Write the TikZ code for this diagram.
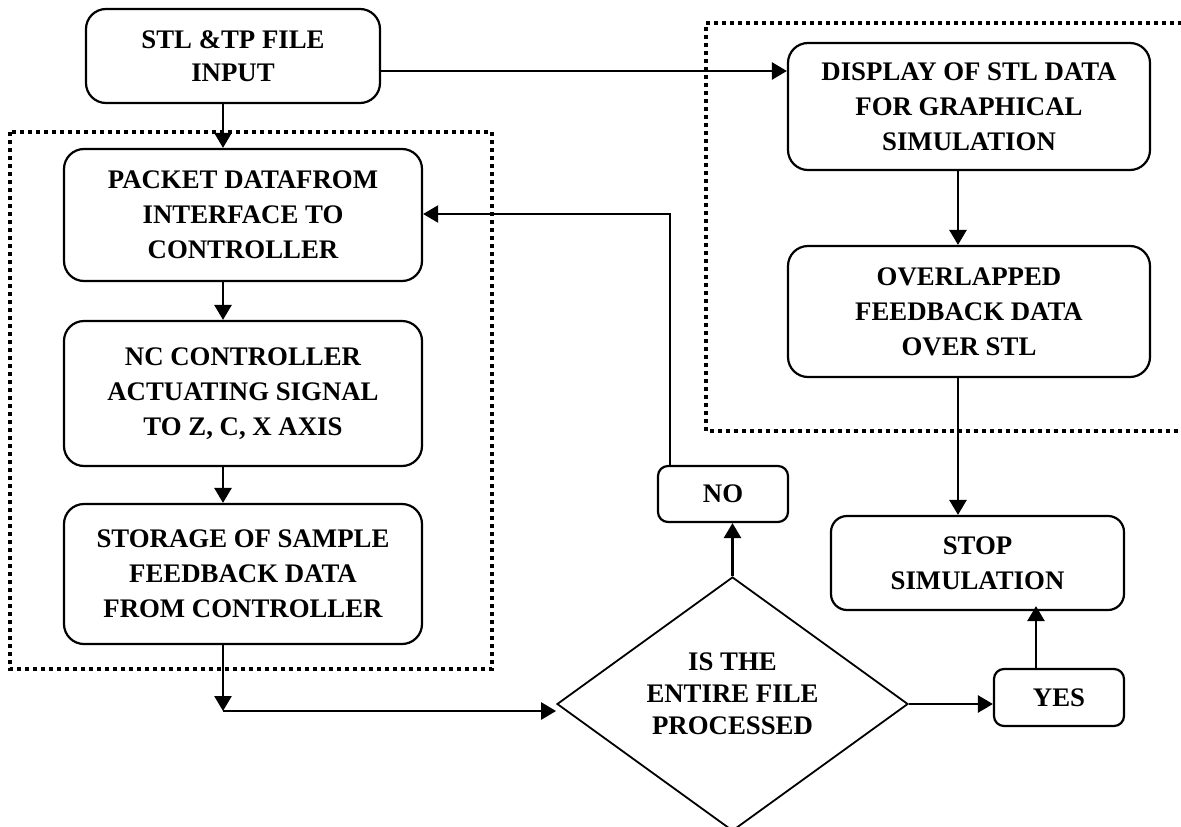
\documentclass[tikz,border=0pt]{standalone}
\usepackage{fontspec}
\setmainfont{Liberation Serif}
\usetikzlibrary{shapes.geometric,arrows.meta}

\tikzset{
  box/.style={draw, line width=2.2pt, rounded corners=20pt, align=center, inner sep=0pt,
    font=\fontsize{26.8}{35}\selectfont\bfseries},
  smallbox/.style={box, rounded corners=10pt},
  decide/.style={draw, diamond, line width=1.8pt, align=center, inner sep=0pt, aspect=1.38,
    minimum width=351pt, minimum height=254pt, font=\fontsize{26.8}{32}\selectfont\bfseries},
  flow/.style={line width=2.7pt, -{Triangle[length=15pt,width=17pt]}},
  dotbox/.style={line width=4pt, dash pattern=on 4pt off 4pt}
}

\begin{document}
\begin{tikzpicture}[x=1pt, y=-1pt]
    \useasboundingbox (0,0) rectangle (1181,827);

    % dotted groups
    \draw[dotbox] (10,132) rectangle (492,669);
    \draw[dotbox] (1190,23) -- (706,23) -- (706,431) -- (1190,431);

    % left column
    \node[box, minimum width=294pt, minimum height=94pt] (stl) at (233,56) {STL \&TP FILE\\[-2pt]INPUT};
    \node[box, minimum width=358pt, minimum height=132pt] (packet) at (243,215) {PACKET DATAFROM\\INTERFACE TO\\CONTROLLER};
    \node[box, minimum width=358pt, minimum height=145pt] (nc) at (243,393.5) {NC CONTROLLER\\ACTUATING SIGNAL\\TO Z, C, X AXIS};
    \node[box, minimum width=358pt, minimum height=140pt] (storage) at (243,574) {STORAGE OF SAMPLE\\FEEDBACK DATA\\FROM CONTROLLER};

    % right column
    \node[box, minimum width=362pt, minimum height=127pt] (display) at (969,106.5) {DISPLAY OF STL DATA\\FOR GRAPHICAL\\SIMULATION};
    \node[box, minimum width=362pt, minimum height=131pt] (overlap) at (969,311.5) {OVERLAPPED\\FEEDBACK DATA\\OVER STL};
    \node[box, rounded corners=16pt, minimum width=293pt, minimum height=94pt] (stop) at (977.5,563) {STOP\\SIMULATION};

    % decision
    \node[decide] (check) at (732.5,704) {IS THE\\ENTIRE FILE\\PROCESSED\\[-11pt]\mbox{}};
    \node[smallbox, minimum width=130pt, minimum height=56pt] (no) at (723,494) {NO};
    \node[smallbox, minimum width=130pt, minimum height=57pt] (yes) at (1059,697.5) {YES};

    % bends
    \coordinate (lcol) at (223,0);
    \coordinate (rcol) at (958,0);
    \coordinate (fb) at (670,214);
    \coordinate (sbend) at (223,711);
    \coordinate (trow) at (0,71);

    % connectors
    \draw[flow] (stl.south -| lcol) -- (packet.north -| lcol);
    \draw[flow] (packet.south -| lcol) -- (nc.north -| lcol);
    \draw[flow] (nc.south -| lcol) -- (storage.north -| lcol);
    \draw[flow] (storage.south -| lcol) -- (sbend);
    \draw[flow] (sbend) -- (sbend -| check.west);
    \draw[flow] (stl.east |- trow) -- (display.west |- trow);
    \draw[flow] (display.south -| rcol) -- (overlap.north -| rcol);
    \draw[flow] (overlap.south -| rcol) -- (stop.north -| rcol);
    \draw[flow] (check.north) -- (no.south -| check.north);
    \draw[flow, line width=2.2pt] (no.north -| fb) -- (fb) -- (packet.east |- fb);
    \draw[flow] (check.east) -- (yes.west |- check.east);
    \draw[flow] ([xshift=-23pt]yes.north) -- ([xshift=-23pt,yshift=5pt]yes.north |- stop.south);
\end{tikzpicture}
\end{document}
